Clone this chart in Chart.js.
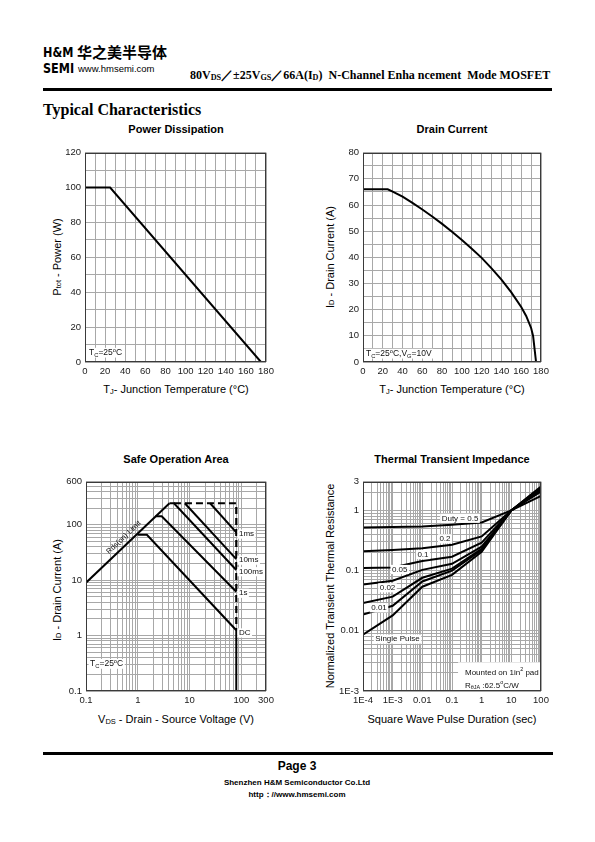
<!DOCTYPE html>
<html>
<head>
<meta charset="utf-8">
<script src="https://cdn.jsdelivr.net/npm/chart.js@4.4.1/dist/chart.umd.min.js"></script>
<style>
html,body{margin:0;padding:0;background:#fff;}
body{width:595px;height:842px;position:relative;overflow:hidden;font-family:"Liberation Sans",Arial,sans-serif;color:#000;}
.a{position:absolute;white-space:nowrap;line-height:1;}
canvas{position:absolute;}
.ct{font-weight:bold;font-size:11px;transform:translateX(-50%);}
.xt{font-size:11px;transform:translateX(-50%);}
.yt{font-size:11px;transform:translate(-50%,-50%) rotate(-90deg);}
sub{font-size:68%;vertical-align:-0.12em;line-height:0;}
.rule{position:absolute;background:#000;}
.ser{font-family:"Liberation Serif","Times New Roman",serif;font-weight:bold;}
.logo{font-family:'Liberation Sans Narrow','DejaVu Sans Condensed','Liberation Sans';font-weight:bold;font-size:14.5px;transform:scaleX(0.86);transform-origin:left top;}
</style>
</head>
<body>
<div class="a logo" style="left:43px;top:45px;">H&amp;M</div>
<div class="a" style="left:77px;top:44px;font-family:'Noto Sans CJK SC';font-weight:bold;font-size:15px;">华之美半导体</div>
<div class="a logo" style="left:43px;top:61px;">SEMI</div>
<div class="a" style="left:78px;top:64px;font-size:9.5px;">www.hmsemi.com</div>
<div class="a ser" style="left:190px;top:69px;font-size:12px;">80V<sub>DS</sub>／±25V<sub>GS</sub>／66A(I<sub>D</sub>)&nbsp; N-Channel Enha ncement&nbsp; Mode MOSFET</div>
<div class="rule" style="left:43px;top:88px;width:509px;height:3px;"></div>
<div class="a ser" style="left:43px;top:102px;font-size:16px;">Typical Characteristics</div>

<div class="a ct" style="left:176px;top:124px;">Power Dissipation</div>
<div class="a ct" style="left:452px;top:124px;">Drain Current</div>
<div class="a ct" style="left:176px;top:454px;">Safe Operation Area</div>
<div class="a ct" style="left:452px;top:454px;">Thermal Transient Impedance</div>

<div class="a xt" style="left:176px;top:384px;">T<sub>J</sub>- Junction Temperature (°C)</div>
<div class="a xt" style="left:452px;top:384px;">T<sub>J</sub>- Junction Temperature (°C)</div>
<div class="a xt" style="left:176px;top:714px;">V<sub>DS</sub> - Drain - Source Voltage (V)</div>
<div class="a xt" style="left:452px;top:714px;">Square Wave Pulse Duration (sec)</div>

<div class="a yt" style="left:57px;top:257px;">P<sub>tot</sub> - Power (W)</div>
<div class="a yt" style="left:330px;top:257px;">I<sub>D</sub> - Drain Current (A)</div>
<div class="a yt" style="left:57px;top:590px;">I<sub>D</sub> - Drain Current (A)</div>
<div class="a yt" style="left:330px;top:586px;">Normalized Transient Thermal Resistance</div>

<canvas id="c1"></canvas>
<canvas id="c2"></canvas>
<canvas id="c3"></canvas>
<canvas id="c4"></canvas>

<div class="rule" style="left:43px;top:752px;width:510px;height:3px;"></div>
<div class="a" style="left:297px;top:760px;transform:translateX(-50%);font-weight:bold;font-size:12px;">Page 3</div>
<div class="a" style="left:297px;top:779px;transform:translateX(-50%);font-weight:bold;font-size:8px;">Shenzhen H&amp;M Semiconductor Co.Ltd</div>
<div class="a" style="left:297px;top:791px;transform:translateX(-50%);font-weight:bold;font-size:8px;">http：//www.hmsemi.com</div>

<script>
// ================= DATA =================
// Power dissipation
const PD_TEMP = [0, 25, 175];
const PD_POWER = [100, 100, 0];
const PD_X_LABELS = [0, 20, 40, 60, 80, 100, 120, 140, 160, 180];
const PD_Y_LABELS = [0, 20, 40, 60, 80, 100, 120];

// Drain current
const ID_TEMP = [0, 25, 30, 40, 50, 60, 70, 80, 90, 100, 110, 120, 130, 140, 150, 160, 165, 170, 172, 175];
const ID_CURRENT = [66, 66, 65.1, 63.2, 60.8, 58.3, 55.6, 52.8, 49.8, 46.6, 43.3, 39.8, 35.8, 31.5, 26.6, 21, 17.6, 13, 10, 0];
const ID_X_LABELS = [0, 20, 40, 60, 80, 100, 120, 140, 160, 180];
const ID_Y_LABELS = [0, 10, 20, 30, 40, 50, 60, 70, 80];

// Safe operating area (V, A)
const SOA_RDS_V = [0.1, 4.1];      const SOA_RDS_I = [9, 245];
const SOA_DC_V = [1.0, 1.5, 80, 80]; const SOA_DC_I = [66, 66, 1.25, 0.1];
const SOA_1S_V = [2.2, 2.9, 80];    const SOA_1S_I = [142, 142, 6.2];
const SOA_100MS_V = [4.1, 5.0, 80]; const SOA_100MS_I = [245, 245, 15.3];
const SOA_10MS_V = [8.1, 80];       const SOA_10MS_I = [245, 24];
const SOA_1MS_V = [25, 80];         const SOA_1MS_I = [245, 73];
const SOA_LIMIT_V = [5.0, 80, 80];  const SOA_LIMIT_I = [245, 245, 1.25];
const SOA_X_LABELS = [0.1, 1, 10, 100, 300];
const SOA_X_TEXT = ['0.1', '1', '10', '100', '300'];
const SOA_Y_LABELS = [0.1, 1, 10, 100, 600];
const SOA_Y_TEXT = ['0.1', '1', '10', '100', '600'];

// Thermal transient impedance
const ZTH_T = [1e-4, 1e-3, 0.01, 0.1, 1, 10, 100];
const ZTH_D05 = [0.52, 0.53, 0.54, 0.58, 0.63, 1.0, 1.75];
const ZTH_D02 = [0.21, 0.22, 0.235, 0.27, 0.37, 1.0, 2.05];
const ZTH_D01 = [0.11, 0.113, 0.145, 0.17, 0.29, 1.0, 2.2];
const ZTH_D005 = [0.059, 0.068, 0.103, 0.13, 0.25, 1.0, 2.3];
const ZTH_D002 = [0.029, 0.037, 0.076, 0.108, 0.23, 1.0, 2.35];
const ZTH_D001 = [0.0187, 0.026, 0.066, 0.1, 0.22, 1.0, 2.4];
const ZTH_SINGLE = [0.0086, 0.018, 0.054, 0.085, 0.205, 1.0, 2.5];
const ZTH_X_LABELS = [1e-4, 1e-3, 0.01, 0.1, 1, 10, 100];
const ZTH_X_TEXT = ['1E-4', '1E-3', '0.01', '0.1', '1', '10', '100'];
const ZTH_Y_LABELS = [1e-3, 0.01, 0.1, 1, 3];
const ZTH_Y_TEXT = ['1E-3', '0.01', '0.1', '1', '3'];

// ================= HELPERS =================
const FONT = '"Liberation Sans", Arial, sans-serif';
const GRID = '#a8a8a8';
const YW = 34, XH = 16, PT = 8, PR = 14;

function linGrid(min, max, step) { const a = []; for (let v = min; v <= max + 1e-9; v += step) a.push(Math.round(v * 1000) / 1000); return a; }
function logGrid(min, max) {
  const a = [];
  for (let e = Math.floor(Math.log10(min)); e <= Math.ceil(Math.log10(max)); e++)
    for (let m = 1; m < 10; m++) { const v = Number((m * Math.pow(10, e)).toPrecision(10)); if (v >= min * (1 - 1e-9) && v <= max * (1 + 1e-9)) a.push(v); }
  return a;
}
function pts(xs, ys) { return xs.map((x, i) => ({ x: x, y: ys[i] })); }

function axis(type, min, max, grid, labels, texts, isX) {
  return {
    type: type, min: min, max: max, position: isX ? 'bottom' : 'left',
    grid: { color: GRID, lineWidth: 1, drawTicks: false },
    border: { display: false },
    ticks: {
      font: { family: FONT, size: 9.5 }, color: '#1a1a1a', padding: isX ? 4 : 4,
      maxRotation: 0, minRotation: 0, autoSkip: false,
      callback: function (v) {
        const i = labels.findIndex(t => Math.abs(t - v) <= Math.abs(t) * 1e-6 + 1e-9);
        return i < 0 ? '' : (texts ? texts[i] : String(labels[i]));
      }
    },
    afterBuildTicks: function (s) { s.ticks = grid.map(v => ({ value: v })); },
    afterFit: function (s) { if (isX) s.height = XH; else s.width = YW; }
  };
}

function parseRich(str) {
  const parts = []; const re = /_\{([^}]*)\}|\^\{([^}]*)\}|([^_^]+)/g; let m;
  while ((m = re.exec(str))) {
    if (m[1] !== undefined) parts.push({ t: m[1], sub: true });
    else if (m[2] !== undefined) parts.push({ t: m[2], sup: true });
    else parts.push({ t: m[3] });
  }
  return parts;
}
function drawRich(ctx, x, y, str, size, align, bg) {
  const parts = parseRich(str);
  const base = size + 'px ' + FONT, small = (size * 0.68) + 'px ' + FONT;
  let w = 0;
  const ws = parts.map(p => { ctx.font = (p.sub || p.sup) ? small : base; const m = ctx.measureText(p.t).width; w += m; return m; });
  let sx = align === 'center' ? x - w / 2 : align === 'right' ? x - w : x;
  if (bg) { ctx.fillStyle = '#fff'; ctx.fillRect(sx - 1.5, y - size * 0.85, w + 3, size * 1.15); }
  ctx.fillStyle = '#111'; ctx.textAlign = 'left'; ctx.textBaseline = 'alphabetic';
  parts.forEach((p, i) => { ctx.font = (p.sub || p.sup) ? small : base; ctx.fillText(p.t, sx, y + (p.sub ? size * 0.22 : p.sup ? -size * 0.4 : 0)); sx += ws[i]; });
}

function decor(labels, boxes, slanted) {
  return {
    id: 'decor',
    afterDatasetsDraw: function (chart) {
      const ctx = chart.ctx, a = chart.chartArea, sx = chart.scales.x, sy = chart.scales.y;
      ctx.save();
      (boxes || []).forEach(b => {
        const x1 = sx.getPixelForValue(b.x1), x2 = sx.getPixelForValue(b.x2);
        const y1 = sy.getPixelForValue(b.y1), y2 = sy.getPixelForValue(b.y2);
        ctx.fillStyle = '#fff'; ctx.fillRect(Math.min(x1, x2), Math.min(y1, y2), Math.abs(x2 - x1), Math.abs(y2 - y1));
      });
      labels.forEach(l => drawRich(ctx, sx.getPixelForValue(l.x), sy.getPixelForValue(l.y), l.text, l.size || 8, l.align || 'left', l.bg !== false));
      (slanted || []).forEach(s => {
        const px1 = sx.getPixelForValue(s.line[0]), py1 = sy.getPixelForValue(s.line[1]);
        const px2 = sx.getPixelForValue(s.line[2]), py2 = sy.getPixelForValue(s.line[3]);
        const ang = Math.atan2(py2 - py1, px2 - px1);
        const cx = sx.getPixelForValue(s.at);
        const t = (cx - px1) / (px2 - px1);
        const cy = py1 + t * (py2 - py1);
        ctx.translate(cx, cy); ctx.rotate(ang);
        ctx.font = s.size + 'px ' + FONT; ctx.fillStyle = '#111'; ctx.textAlign = 'center'; ctx.textBaseline = 'bottom';
        ctx.fillText(s.text, 0, -s.gap);
        ctx.setTransform(1, 0, 0, 1, 0, 0);
      });
      ctx.strokeStyle = '#3a3a3a'; ctx.lineWidth = 1;
      ctx.strokeRect(Math.round(a.left) + 0.5, Math.round(a.top) + 0.5, Math.round(a.width) - 1, Math.round(a.height) - 1);
      ctx.restore();
    }
  };
}

function build(id, rect, scales, datasets, plugin) {
  const cv = document.getElementById(id);
  const w = YW + (rect.r - rect.l) + PR;
  const h = PT + (rect.b - rect.t) + XH;
  cv.width = w; cv.height = h;
  cv.style.width = w + 'px'; cv.style.height = h + 'px';
  cv.style.left = (rect.l - YW) + 'px'; cv.style.top = (rect.t - PT) + 'px';
  return new Chart(cv, {
    type: 'scatter',
    data: { datasets: datasets.map(d => Object.assign({ showLine: true, borderColor: '#000', backgroundColor: '#000', borderWidth: 2, pointRadius: 0, fill: false, tension: 0 }, d)) },
    options: {
      responsive: false, animation: false, devicePixelRatio: 1,
      layout: { padding: { left: 0, top: PT, right: PR, bottom: 0 } },
      plugins: { legend: { display: false }, tooltip: { enabled: false } },
      scales: scales
    },
    plugins: [plugin]
  });
}

// ================= CHARTS =================
build('c1', { l: 85, t: 151, r: 266, b: 362 },
  { x: axis('linear', 0, 180, linGrid(0, 180, 10), PD_X_LABELS, null, true),
    y: axis('linear', 0, 120, linGrid(0, 120, 10), PD_Y_LABELS, null, false) },
  [{ data: pts(PD_TEMP, PD_POWER) }],
  decor([{ x: 4, y: 4, text: 'T_{C}=25^{o}C', size: 8.5 }]));

build('c2', { l: 363, t: 151, r: 541, b: 362 },
  { x: axis('linear', 0, 180, linGrid(0, 180, 10), ID_X_LABELS, null, true),
    y: axis('linear', 0, 80, linGrid(0, 80, 5), ID_Y_LABELS, null, false) },
  [{ data: pts(ID_TEMP, ID_CURRENT) }],
  decor([{ x: 3, y: 2.3, text: 'T_{C}=25^{o}C,V_{G}=10V', size: 8.5 }]));

build('c3', { l: 86, t: 480, r: 266, b: 691 },
  { x: axis('logarithmic', 0.1, 300, logGrid(0.1, 300), SOA_X_LABELS, SOA_X_TEXT, true),
    y: axis('logarithmic', 0.1, 600, logGrid(0.1, 600), SOA_Y_LABELS, SOA_Y_TEXT, false) },
  [
    { data: pts(SOA_RDS_V, SOA_RDS_I) },
    { data: pts(SOA_DC_V, SOA_DC_I) },
    { data: pts(SOA_1S_V, SOA_1S_I) },
    { data: pts(SOA_100MS_V, SOA_100MS_I) },
    { data: pts(SOA_10MS_V, SOA_10MS_I) },
    { data: pts(SOA_1MS_V, SOA_1MS_I) },
    { data: pts(SOA_LIMIT_V, SOA_LIMIT_I), borderDash: [7, 4], borderWidth: 2.2 }
  ],
  decor([
    { x: 0.12, y: 0.28, text: 'T_{C}=25^{o}C', size: 8.5 },
    { x: 90, y: 62, text: '1ms' },
    { x: 90, y: 21, text: '10ms' },
    { x: 90, y: 13, text: '100ms' },
    { x: 90, y: 5.3, text: '1s' },
    { x: 90, y: 1.02, text: 'DC' }
  ], [], [{ line: [SOA_RDS_V[0], SOA_RDS_I[0], SOA_RDS_V[1], SOA_RDS_I[1]], at: 0.66, text: 'Rds(on) Limit', size: 7.5, gap: 3 }]));

build('c4', { l: 363, t: 480, r: 541, b: 691 },
  { x: axis('logarithmic', 1e-4, 100, logGrid(1e-4, 100), ZTH_X_LABELS, ZTH_X_TEXT, true),
    y: axis('logarithmic', 1e-3, 3, logGrid(1e-3, 3), ZTH_Y_LABELS, ZTH_Y_TEXT, false) },
  [
    { data: pts(ZTH_T, ZTH_D05) },
    { data: pts(ZTH_T, ZTH_D02) },
    { data: pts(ZTH_T, ZTH_D01) },
    { data: pts(ZTH_T, ZTH_D005) },
    { data: pts(ZTH_T, ZTH_D002) },
    { data: pts(ZTH_T, ZTH_D001) },
    { data: pts(ZTH_T, ZTH_SINGLE) }
  ],
  decor([
    { x: 0.186, y: 0.68, text: 'Duty = 0.5', align: 'center' },
    { x: 0.058, y: 0.31, text: '0.2', align: 'center' },
    { x: 0.0105, y: 0.17, text: '0.1', align: 'center' },
    { x: 0.00173, y: 0.096, text: '0.05', align: 'center' },
    { x: 0.00067, y: 0.0477, text: '0.02', align: 'center' },
    { x: 0.000346, y: 0.0222, text: '0.01', align: 'center' },
    { x: 0.00146, y: 0.0067, text: 'Single Pulse', align: 'center' },
    { x: 0.274, y: 0.00187, text: 'Mounted on 1in^{2} pad', bg: false },
    { x: 0.274, y: 0.00114, text: 'R_{θJA} :62.5^{o}C/W', bg: false }
  ], [{ x1: 0.16, x2: 100, y1: 0.001, y2: 0.003 }]));
</script>
</body>
</html>
